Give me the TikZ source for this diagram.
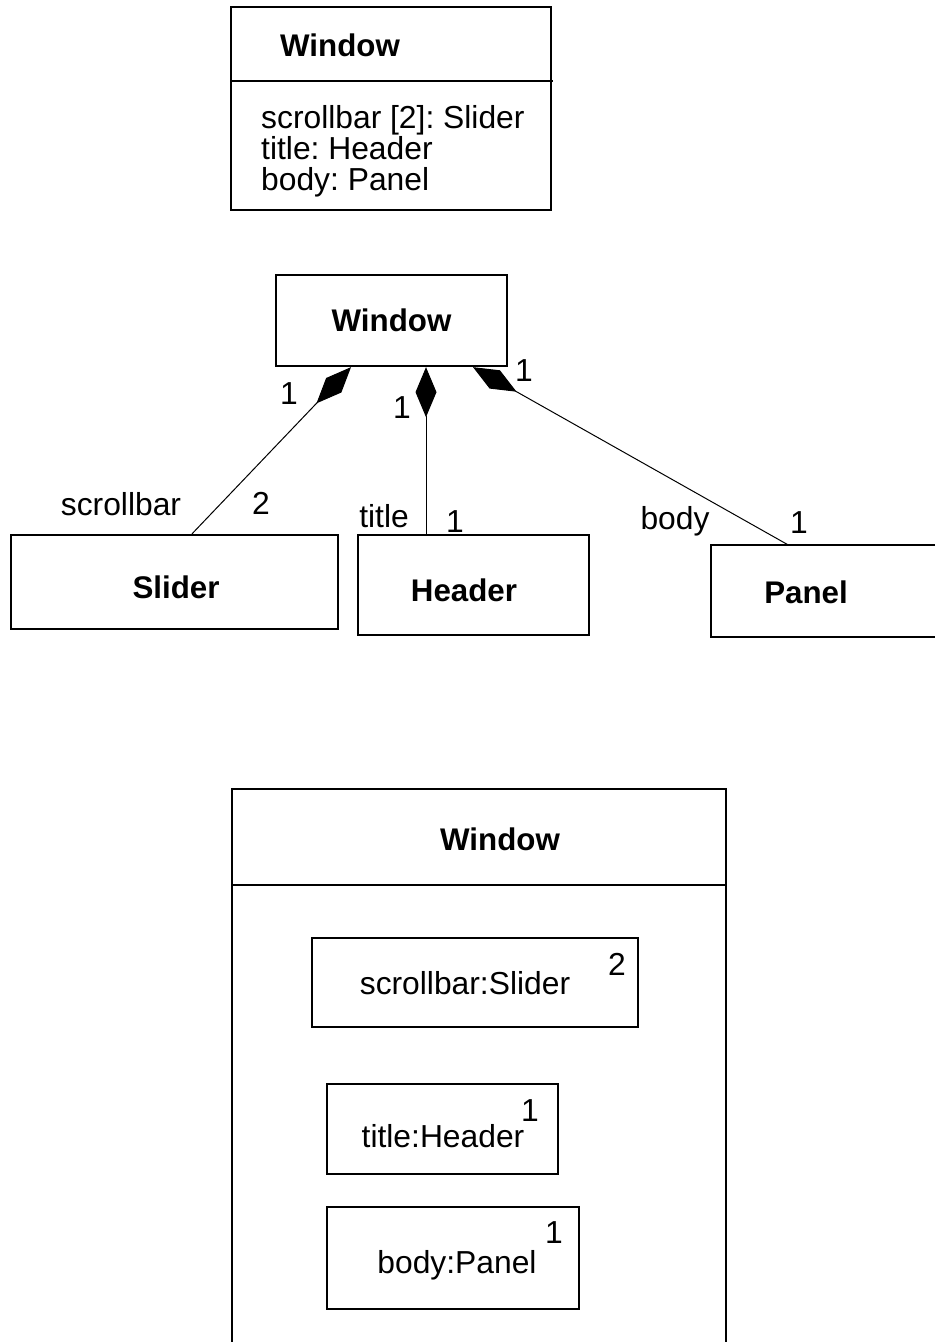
\documentclass[tikz,border=0pt]{standalone}
\usepackage{fontspec}
\setmainfont{Liberation Sans}
\usetikzlibrary{arrows.meta}
\frenchspacing
\begin{document}
\begin{tikzpicture}[x=1pt,y=-1pt,
  box/.style={draw,line width=2.3pt,inner sep=0pt},
  edgeline/.style={line width=2.3pt},
  txt/.style={inner sep=0pt,font=\fontsize{31.8}{30}\selectfont},
  btxt/.style={inner sep=0pt,font=\fontsize{31.3}{30}\selectfont\bfseries},
  conn/.style={line width=1pt},
  comp/.style={conn,{Diamond[length=50pt,width=21pt]}-}
]
\useasboundingbox (0,0) rectangle (935,1342);

% ---- top: class with attributes
\node[box,minimum width=320pt,minimum height=203pt] (cls) at (391,108.5) {};
\coordinate (dl) at (231,81);
\coordinate (dr) at (553,81);
\draw[edgeline] (dl) -- (dr);
\node[btxt,anchor=west] (clsname) at (280,45) {Window};
\node[txt,anchor=base west] (a1) at (261,128) {scrollbar [2]: Slider};
\node[txt,anchor=base west] (a2) at (261,159) {title: Header};
\node[txt,anchor=base west] (a3) at (261,190) {body: Panel};

% ---- middle: composition diagram
\node[box,btxt,minimum width=231pt,minimum height=91pt] (win) at (391.5,320.5) {Window};
\node[box,minimum width=327pt,minimum height=94pt] (sld) at (174.5,582) {};
\node[btxt] (sldt) at (176,587) {Slider};
\node[box,minimum width=231pt,minimum height=100pt] (hdr) at (473.5,585) {};
\node[btxt] (hdrt) at (464,590) {Header};
\node[minimum width=224pt,minimum height=92pt,inner sep=0pt] (pnl) at (823,591) {};
\draw[edgeline] (pnl.north east) -- (pnl.north west) -- (pnl.south west) -- (pnl.south east);
\node[btxt] (pnlt) at (806,592) {Panel};

\draw[comp] ([xshift=-40.5pt]win.south) -- ([xshift=17.5pt]sld.north);
\draw[comp] ([xshift=34.5pt]win.south) -- ([xshift=-47.5pt]hdr.north);
\draw[comp] ([xshift=81.5pt]win.south) -- ([xshift=-35pt]pnl.north);

\node[txt] (m1) at (289,394) {1};
\node[txt] (m2) at (402,408) {1};
\node[txt] (m3) at (524,371) {1};
\node[txt] (r1) at (121,504) {scrollbar};
\node[txt] (m4) at (261,503) {2};
\node[txt] (r2) at (384,516) {title};
\node[txt] (m5) at (455,522) {1};
\node[txt] (r3) at (675,521) {body};
\node[txt] (m6) at (799,523) {1};

% ---- bottom: structured class
\coordinate (bl) at (232,1350);
\coordinate (tl) at (232,789);
\coordinate (tr) at (726,789);
\coordinate (br) at (726,1350);
\draw[edgeline] (bl) -- (tl) -- (tr) -- (br);
\coordinate (sl) at (232,885);
\coordinate (sr) at (726,885);
\draw[edgeline] (sl) -- (sr);
\node[btxt] (bwt) at (500,839) {Window};

\node[box,minimum width=326pt,minimum height=89pt] (p1) at (475,982.5) {};
\node[txt] (p1t) at (465,983) {scrollbar:Slider};
\node[txt] (p1m) at (617,964) {2};
\node[box,minimum width=231pt,minimum height=90pt] (p2) at (442.5,1129) {};
\node[txt] (p2t) at (443,1136) {title:Header};
\node[txt] (p2m) at (530,1111) {1};
\node[box,minimum width=252pt,minimum height=102pt] (p3) at (453,1258) {};
\node[txt] (p3t) at (457,1265) {body:Panel};
\node[txt] (p3m) at (554,1233) {1};
\end{tikzpicture}
\end{document}
